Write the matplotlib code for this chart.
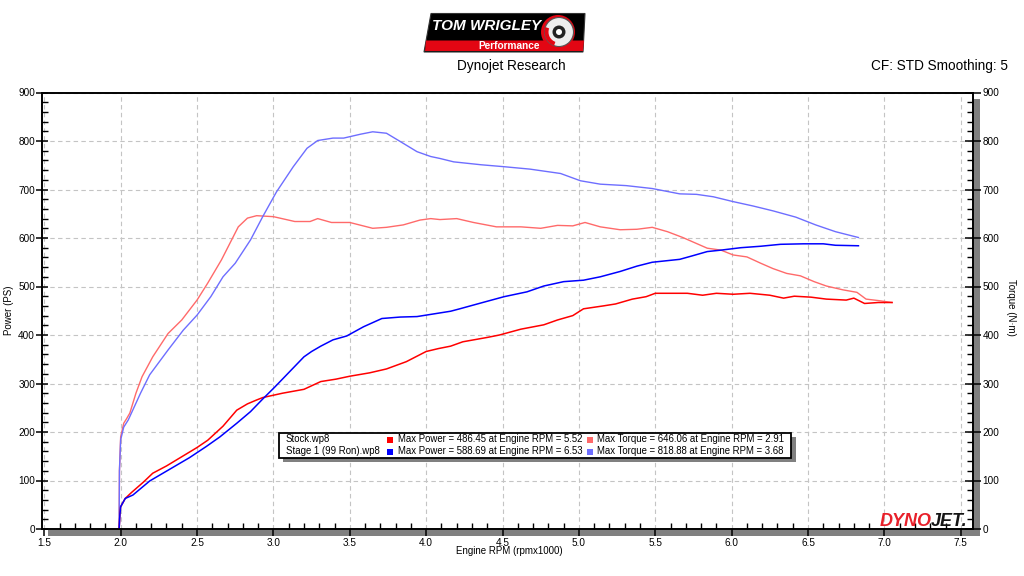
import matplotlib
matplotlib.use('Agg')
import matplotlib.pyplot as plt
from matplotlib.patches import Rectangle, Polygon, Circle, Wedge

plt.rcParams['font.family'] = ['Liberation Sans', 'DejaVu Sans']

# ---------------- data ----------------
stock_torque_rpm = [1.99, 1.992, 2.00, 2.02, 2.04, 2.06, 2.10, 2.14, 2.21, 2.31, 2.40, 2.50, 2.57, 2.66,
                    2.77, 2.83, 2.89, 3.00, 3.14, 3.24, 3.29, 3.38, 3.50, 3.65, 3.74, 3.85, 3.96,
                    4.03, 4.09, 4.20, 4.31, 4.46, 4.62, 4.75, 4.86, 4.96, 5.04, 5.14, 5.27, 5.38,
                    5.48, 5.58, 5.68, 5.84, 5.93, 6.01, 6.10, 6.19, 6.27, 6.36, 6.45, 6.54, 6.62,
                    6.73, 6.82, 6.88, 6.96, 7.05]
stock_torque = [0, 120, 190, 218, 228, 239, 280, 314, 355, 403, 431, 472, 507, 555,
                623, 641, 646, 644, 634, 634, 640, 632, 632, 620, 622, 627, 637,
                640, 638, 640, 632, 623, 623, 620, 626, 625, 632, 623, 617, 618,
                622, 613, 601, 579, 575, 565, 561, 548, 537, 527, 522, 510, 501,
                493, 488, 474, 471, 467]

stock_power_rpm = [1.99, 1.995, 2.00, 2.03, 2.07, 2.15, 2.21, 2.30, 2.40, 2.50, 2.57, 2.67, 2.76, 2.83,
                   2.89, 2.93, 3.06, 3.20, 3.31, 3.41, 3.50, 3.63, 3.74, 3.87, 4.00, 4.08,
                   4.16, 4.24, 4.40, 4.48, 4.62, 4.77, 4.86, 4.96, 5.03, 5.16, 5.24, 5.35, 5.44,
                   5.50, 5.71, 5.81, 5.90, 6.01, 6.12, 6.25, 6.34, 6.41, 6.52, 6.62, 6.75, 6.80,
                   6.87, 6.96, 7.05]
stock_power = [0, 30, 46, 63, 75, 97, 115, 130, 149, 168, 183, 212, 245, 258,
               266, 271, 280, 288, 304, 309, 315, 322, 330, 345, 366, 372,
               377, 386, 395, 400, 412, 421, 431, 440, 454, 460, 464, 474, 479,
               486, 486, 482, 486, 484, 486, 482, 476, 480, 478, 474, 472, 476,
               465, 467, 467]

stage_torque_rpm = [1.99, 1.992, 2.00, 2.02, 2.05, 2.13, 2.19, 2.31, 2.41, 2.50, 2.59, 2.67, 2.75, 2.85,
                    2.93, 3.02, 3.13, 3.22, 3.29, 3.39, 3.46, 3.57, 3.65, 3.74, 3.83, 3.94, 4.03,
                    4.09, 4.18, 4.36, 4.51, 4.68, 4.88, 5.01, 5.14, 5.31, 5.48, 5.66, 5.77, 5.88,
                    6.01, 6.14, 6.27, 6.42, 6.55, 6.68, 6.83]
stage_torque = [0, 120, 184, 210, 225, 280, 318, 369, 410, 441, 479, 520, 548, 596,
                644, 695, 747, 785, 801, 806, 806, 814, 819, 816, 799, 778, 768,
                764, 757, 751, 747, 742, 733, 718, 711, 708, 702, 691, 690, 685,
                675, 666, 656, 643, 627, 613, 601]

stage_power_rpm = [1.99, 1.995, 2.00, 2.03, 2.08, 2.19, 2.32, 2.45, 2.56, 2.65, 2.76, 2.85, 2.93, 3.01,
                   3.20, 3.25, 3.31, 3.39, 3.48, 3.59, 3.71, 3.83, 3.94, 4.00, 4.16, 4.22, 4.37, 4.51,
                   4.66, 4.77, 4.90, 5.03, 5.14, 5.27, 5.38, 5.48, 5.66, 5.74, 5.84, 5.93, 6.06,
                   6.19, 6.32, 6.47, 6.60, 6.68, 6.83]
stage_power = [0, 30, 46, 63, 70, 99, 123, 147, 170, 190, 218, 242, 268, 293,
               355, 366, 377, 390, 398, 417, 434, 437, 438, 441, 449, 454, 467, 479,
               489, 501, 510, 513, 520, 531, 542, 550, 556, 563, 572, 575, 580,
               583, 587, 588, 588, 585, 584]

run_names = ['Stock.wp8', 'Stage 1 (99 Ron).wp8']
max_power = [486.45, 588.69]
max_power_rpm = [5.52, 6.53]
max_torque = [646.06, 818.88]
max_torque_rpm = [2.91, 3.68]

x_ticks = [1.5, 2.0, 2.5, 3.0, 3.5, 4.0, 4.5, 5.0, 5.5, 6.0, 6.5, 7.0, 7.5]
y_ticks = [0, 100, 200, 300, 400, 500, 600, 700, 800, 900]

# ---------------- figure ----------------
W, H = 1024, 576
fig = plt.figure(figsize=(W / 100, H / 100), dpi=100)

# underlay (shadows), pixel coordinates
under = fig.add_axes([0, 0, 1, 1], zorder=-1)
under.set_xlim(0, W); under.set_ylim(H, 0); under.axis('off')
under.add_patch(Rectangle((48, 529.5), 931, 6.5, color='#808080', lw=0))
under.add_patch(Rectangle((973.5, 99), 6, 437, color='#808080', lw=0))

ax = fig.add_axes([42 / W, 1 - 529 / H, (973 - 42) / W, (529 - 92.5) / H])
ax.set_xlim(1.485, 7.58)
ax.set_ylim(0, 900)

c_sp, c_st, c_gp, c_gt = '#FF0000', '#FF6A6A', '#0000FF', '#6E6EFF'
ax.plot(stock_torque_rpm, stock_torque, color=c_st, lw=1.0, zorder=3)
ax.plot(stage_torque_rpm, stage_torque, color=c_gt, lw=1.0, zorder=3)
ax.plot(stock_power_rpm, stock_power, color=c_sp, lw=1.1, zorder=4)
ax.plot(stage_power_rpm, stage_power, color=c_gp, lw=1.1, zorder=4)

ax.set_xticks(x_ticks)
ax.set_xticklabels(['%.1f' % v for v in x_ticks])
ax.set_xticks([v / 10 for v in range(15, 76)], minor=True)
ax.set_yticks(y_ticks)
ax.set_yticks(list(range(0, 901, 20)), minor=True)
ax.grid(True, which='major', color='#C4C4C4', lw=0.8, ls=(0, (4, 3)))
ax.set_axisbelow(True)

for s in ax.spines.values():
    s.set_color('black'); s.set_linewidth(1.2)

ax.tick_params(axis='x', which='major', direction='out', length=5, width=1.1,
               labelsize=7.2, pad=1.5)
ax.tick_params(axis='x', which='minor', direction='in', length=4.5, width=1.0)
ax.tick_params(axis='y', which='major', direction='inout', length=8, width=1.1,
               labelsize=7.2, pad=1)
ax.tick_params(axis='y', which='minor', direction='in', length=4, width=1.0)

# right axis (torque)
ax2 = ax.twinx()
ax2.set_ylim(0, 900)
ax2.set_yticks(y_ticks)
ax2.set_yticks(list(range(0, 901, 20)), minor=True)
for s in ax2.spines.values():
    s.set_color('black'); s.set_linewidth(1.2)
ax2.tick_params(axis='y', which='major', direction='inout', length=11, width=1.1,
                labelsize=7.2, pad=1.5)
ax2.tick_params(axis='y', which='minor', direction='in', length=4, width=1.0)

# overlay, pixel coordinates
ov = fig.add_axes([0, 0, 1, 1], zorder=5)
ov.set_xlim(0, W); ov.set_ylim(H, 0); ov.axis('off')

# axis labels
ov.text(9, 310, 'Power (PS)', rotation=90, ha='center', va='center', fontsize=7)
ov.text(1011, 307, 'Torque (N·m)', rotation=-90, ha='center', va='center', fontsize=7)
ov.text(509, 551.5, 'Engine RPM (rpmx1000)', ha='center', va='center', fontsize=7)

# titles
ov.text(511.5, 66, 'Dynojet Research', ha='center', va='center', fontsize=9.8)
ov.text(1008, 66, 'CF: STD Smoothing: 5', ha='right', va='center', fontsize=9.8)

# legend box
ov.add_patch(Rectangle((283, 437), 512.5, 25, color='#808080', lw=0))
ov.add_patch(Rectangle((278.5, 432.5), 512, 25, facecolor='white', edgecolor='black', lw=1.3))
rows = [439.5, 451.5]
pcols = [c_sp, c_gp]
tcols = [c_st, c_gt]
for i in range(2):
    y = rows[i]
    ov.text(286, y, run_names[i], ha='left', va='center', fontsize=6.9)
    ov.add_patch(Rectangle((386.5, y - 3), 6, 6, color=pcols[i], lw=0))
    ov.text(398, y, 'Max Power = %.2f at Engine RPM = %.2f' % (max_power[i], max_power_rpm[i]),
            ha='left', va='center', fontsize=6.9)
    ov.add_patch(Rectangle((586.5, y - 3), 6, 6, color=tcols[i], lw=0))
    ov.text(597, y, 'Max Torque = %.2f at Engine RPM = %.2f' % (max_torque[i], max_torque_rpm[i]),
            ha='left', va='center', fontsize=6.9)

# Tom Wrigley logo
ov.add_patch(Polygon([(431, 13.5), (585, 13.5), (583, 52), (424, 52)], closed=True,
                     facecolor='black', edgecolor='#333333', lw=0.8))
ov.add_patch(Polygon([(426, 40.5), (584, 40.5), (583, 51), (425, 51)], closed=True,
                     facecolor='#E30613', edgecolor='none'))
ov.text(487, 26.5, 'TOM WRIGLEY', color='white', fontsize=11, fontweight='bold',
        style='italic', ha='center', va='center')
ov.text(509, 45.8, 'Performance', color='white', fontsize=7.3, fontweight='bold',
        ha='center', va='center')
ov.add_patch(Circle((558, 32), 17, facecolor='#E30613', edgecolor='none'))
ov.add_patch(Circle((559, 32), 14.5, facecolor='#EDEDED', edgecolor='#555555', lw=0.8))
ov.add_patch(Wedge((559, 32), 14.5, 110, 200, width=4, facecolor='#E30613', edgecolor='none'))
ov.add_patch(Circle((559, 32), 6.5, facecolor='#222222', edgecolor='none'))
ov.add_patch(Circle((559, 32), 3, facecolor='white', edgecolor='none'))

# Dynojet logo
ov.text(932, 522, 'DYNO', color='#E8202A', fontsize=13, fontweight='heavy', style='italic',
        ha='right', va='center')
ov.text(931, 522, 'JET.', color='#151515', fontsize=13, fontweight='heavy', style='italic',
        ha='left', va='center')

fig.savefig('out.png', dpi=100, facecolor='white')
